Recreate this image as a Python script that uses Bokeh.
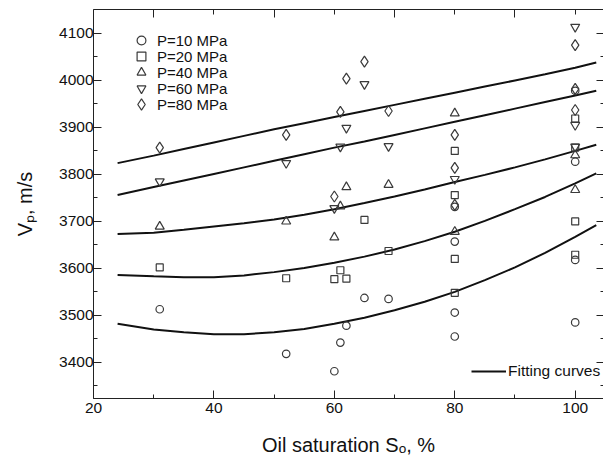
from bokeh.plotting import figure
from bokeh.models import (Range1d, LinearAxis, SingleIntervalTicker, FixedTicker,
                          Legend, LegendItem, CustomJSTickFormatter)
from bokeh.embed import file_html
from bokeh.resources import INLINE

# ---- data ----
x_p10 = [31, 52, 60, 61, 62, 65, 69, 80, 80, 80, 80, 100, 100, 100, 100]
y_p10 = [3513, 3418, 3381, 3442, 3478, 3537, 3535, 3731, 3657, 3506, 3455, 3978, 3827, 3618, 3485]

x_p20 = [31, 52, 60, 61, 62, 65, 69, 80, 80, 80, 80, 100, 100, 100, 100]
y_p20 = [3602, 3579, 3577, 3596, 3578, 3703, 3637, 3850, 3756, 3620, 3548, 3919, 3857, 3700, 3629]

x_p40 = [31, 52, 60, 61, 62, 69, 80, 80, 100, 100]
y_p40 = [3689, 3700, 3666, 3732, 3773, 3778, 3930, 3678, 3841, 3767]

x_p60 = [31, 52, 60, 61, 62, 65, 69, 80, 100, 100, 100]
y_p60 = [3785, 3824, 3728, 3859, 3899, 3992, 3860, 3790, 4114, 3905, 3859]

x_p80 = [31, 52, 60, 61, 62, 65, 69, 80, 80, 80, 100, 100, 100]
y_p80 = [3857, 3884, 3753, 3933, 4004, 4040, 3935, 3884, 3814, 3735, 4075, 3982, 3937]

# fitting curves
x_fit = [24, 30, 35, 40, 45, 50, 55, 60, 65, 70, 75, 80, 85, 90, 95, 100, 103.5]
fit_p10 = [3482, 3470, 3464, 3460, 3460, 3464, 3471, 3482, 3495, 3511, 3529, 3550, 3575, 3602, 3633, 3667, 3692]
fit_p20 = [3586, 3583, 3581, 3581, 3585, 3592, 3601, 3612, 3625, 3640, 3658, 3678, 3701, 3726, 3752, 3781, 3802]
fit_p40 = [3673, 3676, 3682, 3689, 3696, 3704, 3714, 3726, 3739, 3753, 3768, 3784, 3799, 3815, 3832, 3850, 3863]
fit_p60 = [3756, 3773, 3787, 3801, 3815, 3829, 3843, 3857, 3870, 3884, 3898, 3912, 3926, 3940, 3954, 3968, 3978]
fit_p80 = [3824, 3840, 3854, 3868, 3882, 3896, 3909, 3922, 3935, 3948, 3961, 3974, 3987, 4000, 4013, 4027, 4038]

labels = ["P=10 MPa", "P=20 MPa", "P=40 MPa", "P=60 MPa", "P=80 MPa"]
markers = ["circle", "square", "triangle", "inverted_triangle", "diamond"]
sizes = [7.5, 7, 9, 9, 11]
x_label = "Oil saturation Sₒ, %"
y_label = "Vₚ, m/s"
fit_label = "Fitting curves"

FONT = "Liberation Sans"
INK = "#222222"
MK = "#3a3a3a"

p = figure(width=603, height=458,
           x_range=Range1d(20, 104.7), y_range=Range1d(3323, 4151),
           output_backend="svg", toolbar_location=None,
           min_border_left=93, min_border_right=0, min_border_top=9, min_border_bottom=60,
           background_fill_color="white", border_fill_color="white")
p.outline_line_color = None
p.xgrid.visible = False
p.ygrid.visible = False

def style_axis(ax, major_in, minor_in):
    ax.axis_line_color = INK
    ax.axis_line_width = 1
    ax.major_tick_line_color = INK
    ax.minor_tick_line_color = INK
    ax.major_tick_in = major_in
    ax.major_tick_out = 0
    ax.minor_tick_in = minor_in
    ax.minor_tick_out = 0
    ax.major_label_text_font = FONT
    ax.major_label_text_font_size = "15.5px"
    ax.major_label_text_color = "#111111"
    ax.axis_label_text_font = FONT
    ax.axis_label_text_font_size = "20px"
    ax.axis_label_text_font_style = "normal"
    ax.axis_label_text_color = "#111111"

xa = p.xaxis[0]
xa.ticker = SingleIntervalTicker(interval=20, num_minor_ticks=2)
style_axis(xa, 8, 4)
xa.major_label_standoff = 4
xa.axis_label = x_label
xa.axis_label_standoff = 18

ya = p.yaxis[0]
ya.ticker = SingleIntervalTicker(interval=100, num_minor_ticks=2)
style_axis(ya, 8, 4)
ya.major_label_standoff = 0
ya.axis_label = y_label
ya.axis_label_standoff = 20

blank = CustomJSTickFormatter(code="return ''")
top = LinearAxis(ticker=FixedTicker(ticks=[30, 50, 70, 90], minor_ticks=[40, 60, 80, 100]),
                 formatter=blank, major_label_standoff=0)
style_axis(top, 8, 5)
p.add_layout(top, "above")

right = LinearAxis(ticker=SingleIntervalTicker(interval=100, num_minor_ticks=2),
                   formatter=blank, major_label_standoff=0)
style_axis(right, 7, 3)
right.axis_line_color = None
p.add_layout(right, "right")

# fitting curves
fit_renderers = []
for fy in [fit_p10, fit_p20, fit_p40, fit_p60, fit_p80]:
    r = p.line(x_fit, fy, line_color="#111111", line_width=2)
    fit_renderers.append(r)

# scatter series
scatter_renderers = []
for xs, ys, mk, sz in zip([x_p10, x_p20, x_p40, x_p60, x_p80],
                          [y_p10, y_p20, y_p40, y_p60, y_p80], markers, sizes):
    r = p.scatter(xs, ys, marker=mk, size=sz, fill_color=None,
                  line_color=MK, line_width=1.2)
    scatter_renderers.append(r)

# one legend per row so rows can sit closer than the glyph box height
for i, (l, r) in enumerate(zip(labels, scatter_renderers)):
    g = 28 if markers[i] == "diamond" else 22
    d = (g - 22) // 2
    leg = Legend(items=[LegendItem(label=l, renderers=[r])],
                 location=(37 - d, 347 - 16 * i - d), orientation="vertical",
                 glyph_width=g, glyph_height=g, spacing=0, label_height=15,
                 label_standoff=5 - d, padding=0, margin=0,
                 border_line_color=None, background_fill_alpha=0,
                 label_text_font=FONT, label_text_font_size="15px",
                 label_text_color="#111111")
    p.add_layout(leg, "center")

leg2 = Legend(items=[LegendItem(label=fit_label, renderers=[fit_renderers[0]])],
              location=(378, 18), orientation="vertical",
              glyph_width=35, glyph_height=16, spacing=0, label_height=16,
              label_standoff=2, padding=0, margin=0,
              border_line_color=None, background_fill_alpha=0,
              label_text_font=FONT, label_text_font_size="15.5px", label_text_color="#111111")
p.add_layout(leg2, "center")

open("out.html", "w").write(file_html(p, INLINE))
